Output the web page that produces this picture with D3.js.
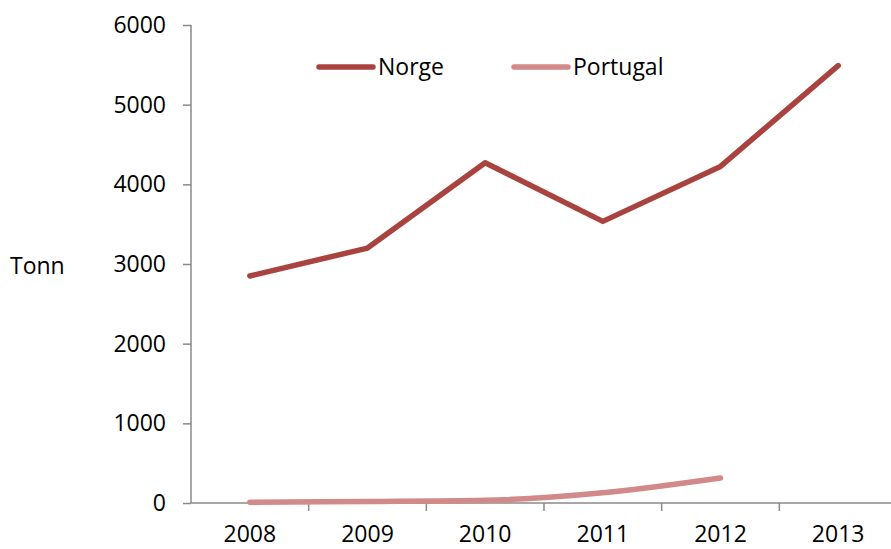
<!DOCTYPE html>
<html>
<head>
<meta charset="utf-8">
<script src="https://cdn.jsdelivr.net/npm/d3@7"></script>
<style>
  body { margin:0; background:#fff; }
  svg text { font-family:"Open Sans", sans-serif; font-size:23px; fill:#000; }
</style>
</head>
<body>
<svg id="chart" width="891" height="549"></svg>
<script>
var years = ["2008", "2009", "2010", "2011", "2012", "2013"];
var norge = [2850, 3200, 4270, 3535, 4225, 5490];
var portugal = [10, 20, 35, 130, 315];
var yTicks = [0, 1000, 2000, 3000, 4000, 5000, 6000];
var seriesNames = ["Norge", "Portugal"];
var seriesColors = ["#A9433F", "#D18A89"];

(function(window, document, undefined){

	var svg = d3.select("#chart");
	var axisColor = "#8a8a8a";

	// plot area
	var left = 191, right = 897, top = 25, bottom = 503;

	var x = d3.scaleBand().domain(years).range([left, right]);
	var y = d3.scaleLinear().domain([0, 6000]).range([bottom, top]);

	// **************   AXES   ****************//
	var yAxis = svg.append("g").attr("transform", "translate(" + left + ",0)")
		.call(d3.axisLeft(y).tickValues(yTicks).tickSize(8).tickPadding(17).tickFormat(d3.format("d")));
	yAxis.select(".domain").attr("stroke", axisColor).attr("stroke-width", 1.5).attr("d", "M0," + top + "V" + bottom);
	yAxis.selectAll(".tick line").attr("stroke", axisColor).attr("stroke-width", 1.5);
	yAxis.selectAll(".tick text").attr("fill", "#000").style("font-size", "23px").style("font-family", "Open Sans");

	var xg = svg.append("g");
	xg.append("line")
		.attr("x1", left).attr("x2", 891)
		.attr("y1", bottom).attr("y2", bottom)
		.attr("stroke", axisColor).attr("stroke-width", 1.5);
	// ticks sit on category boundaries
	xg.selectAll("line.tk")
		.data(years.slice(1))
		.enter().append("line")
		.attr("class", "tk")
		.attr("x1", function(d){ return x(d); }).attr("x2", function(d){ return x(d); })
		.attr("y1", bottom).attr("y2", bottom + 8)
		.attr("stroke", axisColor).attr("stroke-width", 1.5);
	// labels kept a few px up so the glyph box stays inside the frame
	xg.selectAll("text")
		.data(years)
		.enter().append("text")
		.attr("x", function(d){ return x(d) + x.bandwidth() / 2; })
		.attr("y", 542)
		.attr("text-anchor", "middle")
		.text(function(d){ return d; });

	svg.append("text").attr("x", 10).attr("y", 274).text("Tonn");

	// **************   LINES   ****************//
	var cx = function(d, i){ return x(years[i]) + x.bandwidth() / 2; };

	var straight = d3.line().x(cx).y(function(d){ return y(d); });
	var smooth = d3.line().x(cx).y(function(d){ return y(d); }).curve(d3.curveMonotoneX);

	svg.append("path")
		.attr("d", smooth(portugal))
		.attr("fill", "none")
		.attr("stroke", seriesColors[1])
		.attr("stroke-width", 5.5)
		.attr("stroke-linecap", "round")
		.attr("stroke-linejoin", "round");

	svg.append("path")
		.attr("d", straight(norge))
		.attr("fill", "none")
		.attr("stroke", seriesColors[0])
		.attr("stroke-width", 5.5)
		.attr("stroke-linecap", "round")
		.attr("stroke-linejoin", "round");

	// **************   LEGEND   ****************//
	var legendX = [319, 514];
	var legend = svg.selectAll("g.leg")
		.data(seriesNames)
		.enter().append("g")
		.attr("class", "leg")
		.attr("transform", function(d, i){ return "translate(" + legendX[i] + ",67)"; });
	legend.append("line")
		.attr("x1", 0).attr("x2", 54)
		.attr("stroke", function(d, i){ return seriesColors[i]; })
		.attr("stroke-width", 5.5)
		.attr("stroke-linecap", "round");
	legend.append("text")
		.attr("x", 59).attr("y", 8)
		.text(function(d){ return d; });

})(this, document);
</script>
</body>
</html>
